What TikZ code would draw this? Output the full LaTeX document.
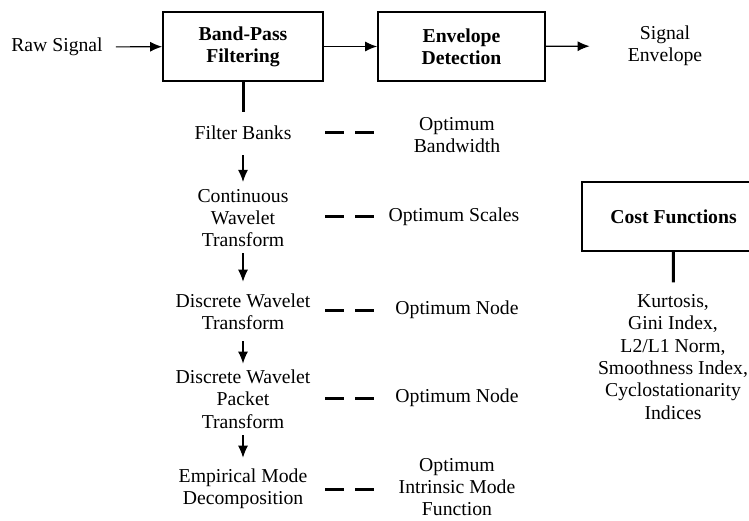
\documentclass[tikz,border=0pt]{standalone}
\usepackage{fontspec}
\setmainfont{Liberation Serif}
\usetikzlibrary{arrows, arrows.meta, positioning}
\newcommand{\taille}{\fontsize{19.7}{22.3}\selectfont}

\begin{document}
\begin{tikzpicture}[x=1pt, y=-1pt]
  \tikzstyle{fleche}=[->,>={Latex[length=12pt,width=10pt]},line width=1.1pt]
  \tikzstyle{boite}=[draw,line width=1.8pt,font=\taille\bfseries,align=center,inner sep=0pt]
  \tikzstyle{texte}=[font=\taille,align=center,inner sep=0pt]
  \tikzstyle{trait}=[line width=3pt]
  \tikzstyle{tirets}=[line width=3pt,dash pattern=on 19pt off 11pt]
  \useasboundingbox (0,0) rectangle (749,521);
  \fill[white] (0,0) rectangle (749,521);
  % chaine principale
  \node[texte] (brut) at (57,47) {Raw Signal};
  \node[boite, minimum width=160pt, minimum height=69pt] (passe) at (243,46.5) {Band-Pass\\Filtering};
  \node[boite, minimum width=167pt, minimum height=69pt] (enveloppe) at (461.5,46.5) {Envelope\\Detection};
  \node[texte] (sortie) at (665,46) {Signal\\Envelope};
  \draw[fleche, shorten <=13pt] (brut) -- (passe);
  \draw[fleche] (passe) -- (enveloppe);
  \draw[fleche, shorten >=38pt] (enveloppe) -- (sortie);
  % methodes
  \node[texte] (bancs) at (243,133) {Filter Banks};
  \node[texte] (continue) at (243,218) {Continuous\\Wavelet\\Transform};
  \node[texte] (discrete) at (243,312) {Discrete Wavelet\\Transform};
  \node[texte] (paquet) at (243,399) {Discrete Wavelet\\Packet\\Transform};
  \node[texte] (empirique) at (243,489) {Empirical Mode\\Decomposition};
  \draw[trait, shorten >=14pt] (passe) -- (bancs);
  \draw[fleche, shorten <=15pt, shorten >=7pt] (bancs) -- (continue);
  \draw[fleche, shorten <=6pt, shorten >=12pt] (continue) -- (discrete);
  \draw[fleche, shorten <=11pt, shorten >=6pt] (discrete) -- (paquet);
  \draw[fleche, shorten <=7pt, shorten >=11pt] (paquet) -- (empirique);
  % optimum
  \node[texte] (largeur) at (457,135) {Optimum\\Bandwidth};
  \node[texte] (echelles) at (454,217) {Optimum Scales};
  \node[texte] (noeudA) at (457,310) {Optimum Node};
  \node[texte] (noeudB) at (457,398) {Optimum Node};
  \node[texte] (fonction) at (457,487) {Optimum\\Intrinsic Mode\\Function};
  \coordinate (g) at (325,0);
  \coordinate (d) at (375,0);
  \draw[tirets] (bancs -| g) -- (bancs -| d);
  \draw[tirets] (echelles -| g) -- (echelles -| d);
  \draw[tirets] (noeudA -| g) -- (noeudA -| d);
  \draw[tirets] (noeudB -| g) -- (noeudB -| d);
  \draw[tirets] (empirique -| g) -- (empirique -| d);
  % couts
  \node[boite, minimum width=183pt, minimum height=69pt] (cout) at (673.5,216.5) {Cost Functions};
  \node[texte] (criteres) at (673,357) {Kurtosis,\\Gini Index,\\L2/L1 Norm,\\Smoothness Index,\\Cyclostationarity\\Indices};
  \draw[trait, shorten >=12pt] (cout) -- (criteres);
\end{tikzpicture}
\end{document}
